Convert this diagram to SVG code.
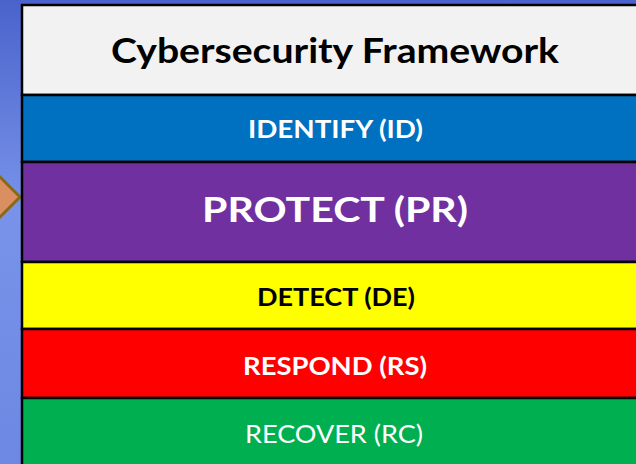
<svg xmlns="http://www.w3.org/2000/svg" width="636" height="464" viewBox="0 0 636 464">
  <defs>
    <linearGradient id="bg" x1="0" y1="0" x2="0" y2="1">
      <stop offset="0" stop-color="#4a63cc"/>
      <stop offset="0.45" stop-color="#7893e9"/>
      <stop offset="1" stop-color="#6d88e2"/>
    </linearGradient>
  </defs>
  <style>
    .row { stroke: #000; stroke-width: 2.5; }
    .t { font-family: Lato, "Liberation Sans", sans-serif; font-weight: bold; text-anchor: middle; }
    .w { fill: #ffffff; }
    .k { fill: #000000; }
  </style>
  <rect x="0" y="0" width="636" height="464" fill="url(#bg)"/>
  <g id="arrow">
    <polygon points="20,197 -7,170 -34,197 -7,224" fill="#d98f62" stroke="#8a6914" stroke-width="3"/>
  </g>
  <g id="title">
    <rect class="row" x="22" y="5" width="640" height="90" fill="#f2f2f2"/>
    <text class="t k" x="335" y="63" font-size="35" textLength="448" lengthAdjust="spacingAndGlyphs">Cybersecurity Framework</text>
  </g>
  <g id="identify">
    <rect class="row" x="22" y="95" width="640" height="67" fill="#0070c0"/>
    <text class="t w" x="335.5" y="138" font-size="24" textLength="175" lengthAdjust="spacingAndGlyphs">IDENTIFY (ID)</text>
  </g>
  <g id="protect">
    <rect class="row" x="22" y="162" width="640" height="100" fill="#7030a0"/>
    <text class="t w" x="335" y="222" font-size="34" textLength="266" lengthAdjust="spacingAndGlyphs">PROTECT (PR)</text>
  </g>
  <g id="detect">
    <rect class="row" x="22" y="262" width="640" height="67" fill="#ffff00"/>
    <text class="t k" x="336" y="306" font-size="25" textLength="158" lengthAdjust="spacingAndGlyphs">DETECT (DE)</text>
  </g>
  <g id="respond">
    <rect class="row" x="22" y="329" width="640" height="69" fill="#ff0000"/>
    <text class="t w" x="335" y="375" font-size="25" textLength="184" lengthAdjust="spacingAndGlyphs">RESPOND (RS)</text>
  </g>
  <g id="recover">
    <rect class="row" x="22" y="398" width="640" height="80" fill="#00b050"/>
    <text class="w" x="334" y="443" font-size="25" font-family="Lato, 'Liberation Sans', sans-serif" text-anchor="middle" textLength="178" lengthAdjust="spacingAndGlyphs">RECOVER (RC)</text>
  </g>
  <g id="connectors"/>
</svg>
